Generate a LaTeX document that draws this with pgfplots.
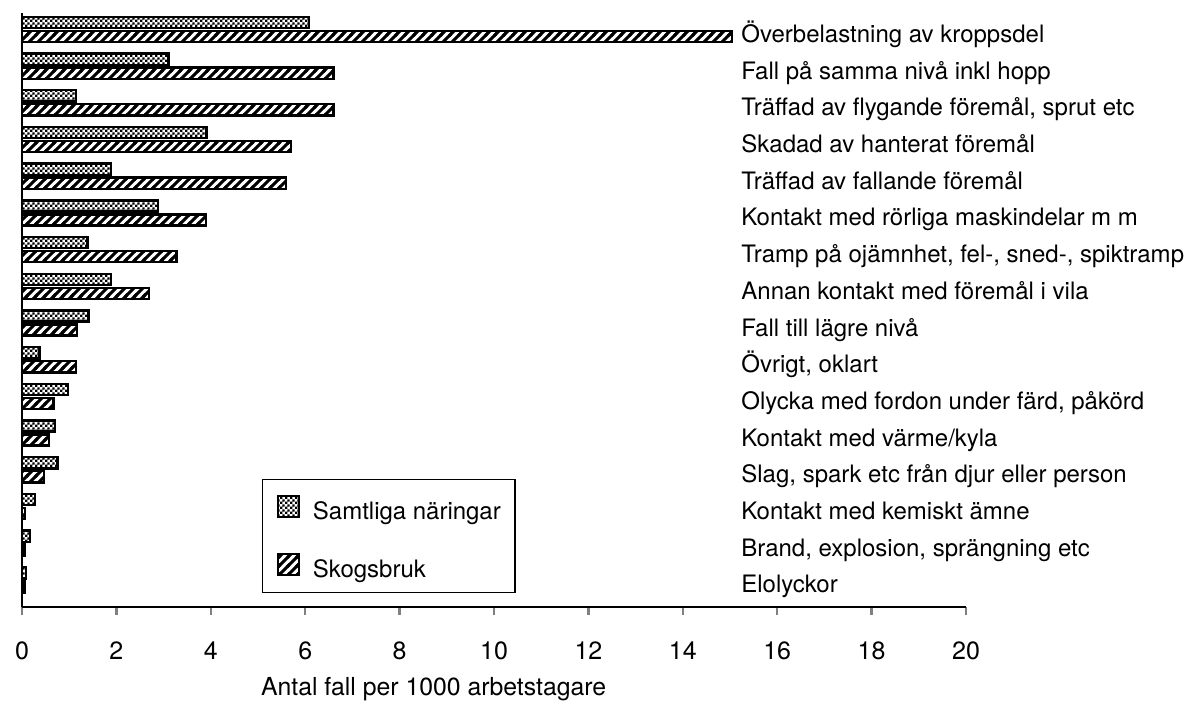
\documentclass[border=0pt]{standalone}
\usepackage{fontspec}
\setmainfont{TeX Gyre Heros}
\usepackage{pgfplots}
\usepackage{pgfplotstable}
\pgfplotsset{compat=1.18}
\usetikzlibrary{patterns}

% fine checker for "Samtliga naringar"
\pgfdeclarepatternformonly{checker}{\pgfqpoint{0pt}{0pt}}{\pgfqpoint{2.6pt}{2.6pt}}{\pgfqpoint{2.6pt}{2.6pt}}{%
  \pgfpathrectangle{\pgfqpoint{0pt}{0pt}}{\pgfqpoint{1.3pt}{1.3pt}}%
  \pgfpathrectangle{\pgfqpoint{1.3pt}{1.3pt}}{\pgfqpoint{1.3pt}{1.3pt}}%
  \pgfusepath{fill}}
% thick diagonal hatch for "Skogsbruk"
\pgfdeclarepatternformonly{hatch}{\pgfqpoint{-1pt}{-1pt}}{\pgfqpoint{5.5pt}{5.5pt}}{\pgfqpoint{4.5pt}{4.5pt}}{%
  \pgfsetlinewidth{1.5pt}%
  \pgfpathmoveto{\pgfqpoint{-1pt}{-1pt}}%
  \pgfpathlineto{\pgfqpoint{5.5pt}{5.5pt}}%
  \pgfusepath{stroke}}

% y = 15 - row, top row first
\pgfplotstableread{
y  samt  skog
15 6.08  15.04
14 3.10  6.60
13 1.15  6.60
12 3.91  5.70
11 1.89  5.59
10 2.88  3.90
9  1.39  3.27
8  1.89  2.69
7  1.41  1.16
6  0.37  1.15
5  0.98  0.67
4  0.70  0.57
3  0.75  0.47
2  0.27  0.06
1  0.17  0.05
0  0.08  0.05
}\olyckor

\newcommand{\lbl}{\fontsize{12}{14}\selectfont}

\begin{document}
\begin{tikzpicture}
\begin{axis}[
    scale only axis,
    width=472pt, height=297pt,
    xmin=0, xmax=20, ymin=-0.74, ymax=15.45,
    axis x line*=bottom, axis y line*=left,
    axis line style={-, line width=1.2pt},
    xtick={0,2,...,20},
    tick align=outside,
    major tick length=4pt,
    xtick style={line width=1.2pt},
    ytick={0,...,15},
    ytick style={draw=none},
    yticklabels={Elolyckor,
      {Brand, explosion, sprängning etc},
      Kontakt med kemiskt ämne,
      {Slag, spark etc från djur eller person},
      Kontakt med värme/kyla,
      {Olycka med fordon under färd, påkörd},
      {Övrigt, oklart},
      Fall till lägre nivå,
      Annan kontakt med föremål i vila,
      {Tramp på ojämnhet, fel-, sned-, spiktramp},
      Kontakt med rörliga maskindelar m m,
      Träffad av fallande föremål,
      Skadad av hanterat föremål,
      {Träffad av flygande föremål, sprut etc},
      Fall på samma nivå inkl hopp,
      Överbelastning av kroppsdel},
    yticklabel style={anchor=base west, inner sep=0pt, xshift=363.5pt, yshift=-6.5pt, font=\lbl},
    xticklabel style={font=\fontsize{12.5}{14}\selectfont, anchor=base, yshift=-22pt, inner sep=0pt},
    /pgf/number format/assume math mode=true,
    xlabel={Antal fall per 1000 arbetstagare},
    xlabel style={at={(rel axis cs:0.436,0)}, anchor=base, yshift=-44pt, inner sep=0pt, font=\fontsize{12.4}{15}\selectfont},
    xbar, bar width=5.6pt,
    legend style={at={(rel axis cs:0.254,0.216)}, anchor=north west,
      draw=black, line width=0.8pt, font=\lbl,
      inner xsep=7pt, inner ysep=7.7pt, row sep=17pt,
      nodes={inner sep=0pt, text height=12pt, text depth=0pt},
      cells={anchor=west},
      /tikz/every odd column/.append style={column sep=6.5pt}},
    legend image code/.code={\draw[#1] (0pt,-5pt) rectangle (10.5pt,5.5pt);},
    clip=false,
]
\addplot[draw=black, line width=1.2pt, pattern=checker, bar shift=3.5pt]
  table[x=samt, y=y]{\olyckor};
\addplot[draw=black, line width=1.2pt, pattern=hatch, bar shift=-3.5pt]
  table[x=skog, y=y]{\olyckor};
\legend{Samtliga näringar, Skogsbruk}
\end{axis}
\pgfresetboundingbox
\path (-11pt,-47pt) rectangle (585.5pt,303.5pt);
\end{tikzpicture}
\end{document}
